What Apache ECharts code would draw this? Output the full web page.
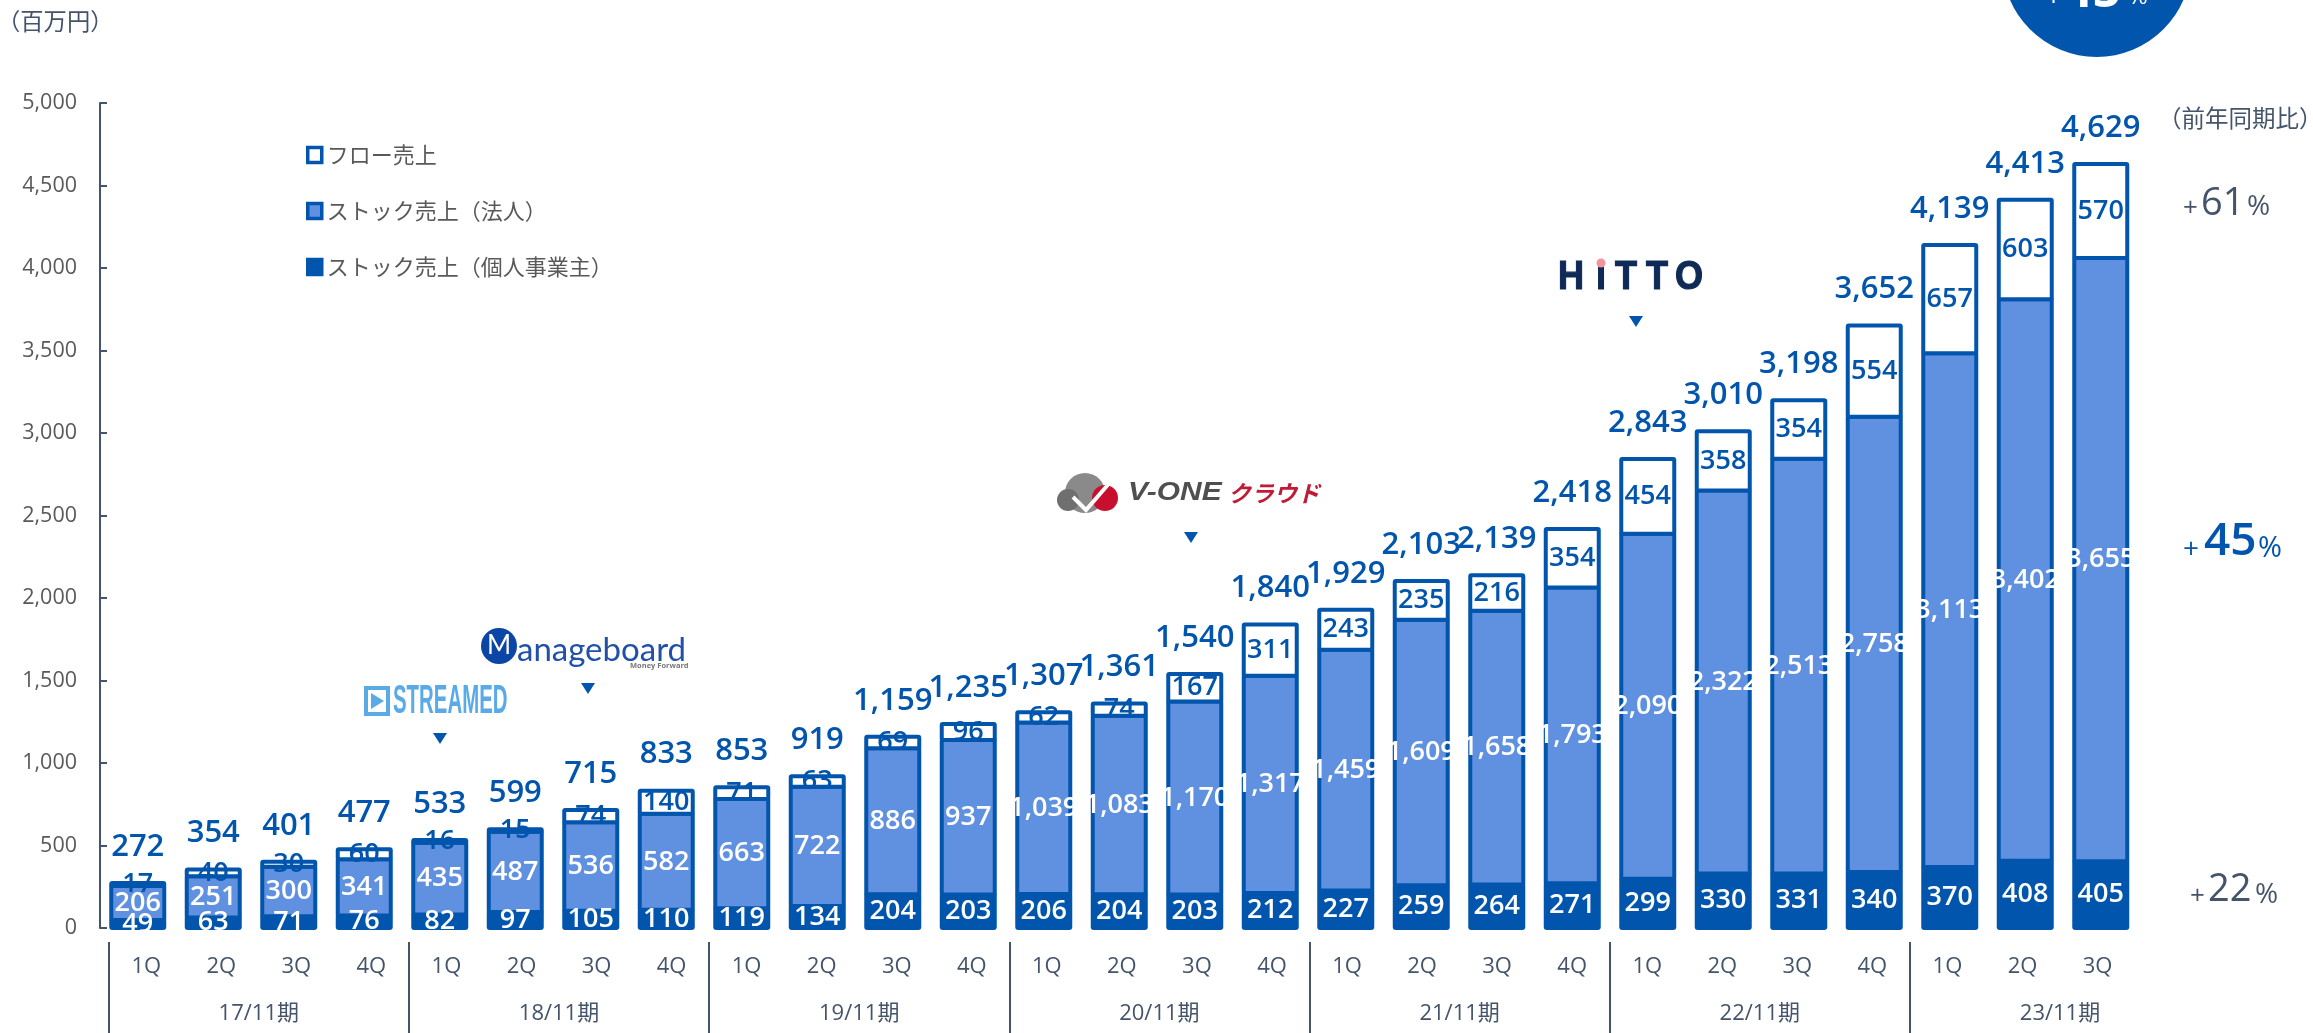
<!DOCTYPE html>
<html><head><meta charset="utf-8">
<style>html,body{margin:0;padding:0;background:#fff}#c{width:2313px;height:1033px}</style>
<script src="https://cdn.jsdelivr.net/npm/echarts@6/dist/echarts.min.js"></script>
</head><body><div id="c"></div>
<script>
const quarters = ['1Q','2Q','3Q','4Q','1Q','2Q','3Q','4Q','1Q','2Q','3Q','4Q','1Q','2Q','3Q','4Q','1Q','2Q','3Q','4Q','1Q','2Q','3Q','4Q','1Q','2Q','3Q'];
const years = ['17/11期','18/11期','19/11期','20/11期','21/11期','22/11期','23/11期'];
const stockIndividual = [49,63,71,76,82,97,105,110,119,134,204,203,206,204,203,212,227,259,264,271,299,330,331,340,370,408,405];
const stockCorporate = [206,251,300,341,435,487,536,582,663,722,886,937,1039,1083,1170,1317,1459,1609,1658,1793,2090,2322,2513,2758,3113,3402,3655];
const flow = [17,40,30,60,16,15,74,140,71,63,69,96,62,74,167,311,243,235,216,354,454,358,354,554,657,603,570];
const totals = [272,354,401,477,533,599,715,833,853,919,1159,1235,1307,1361,1540,1840,1929,2103,2139,2418,2843,3010,3198,3652,4139,4413,4629];
const legendNames = ['フロー売上','ストック売上（法人）','ストック売上（個人事業主）'];

const DARK='#0255ac', MID='#6090e0', GRAY='#595959', SLATE='#44546a';
const FONT='"Open Sans","Noto Sans CJK JP",sans-serif';
const CJK='"Noto Sans CJK JP",sans-serif';
const SANS='"Liberation Sans",sans-serif';
const BAR_W=53, BORDER=4;

const num = v => Number(v).toLocaleString('en-US');
// one stacked layer: each row is [category index, value, value underneath]
function layer(name,values,below,fill,labelColor){
  return {name,type:'custom',xAxisIndex:0,yAxisIndex:0,silent:true,clip:false,
    data:values.map((v,i)=>[i,v,below[i]]),
    encode:{x:0,y:1},
    itemStyle:{color:fill,borderColor:DARK,borderWidth:BORDER},
    renderItem:(p,api)=>{
      const i=api.value(0), v=api.value(1), b=api.value(2);
      const top=api.coord([i,b+v]), bot=api.coord([i,b]);
      return {type:'rect',
        shape:{x:top[0]-BAR_W/2,y:top[1],width:BAR_W,height:bot[1]-top[1],r:1},
        style:{fill,stroke:DARK,lineWidth:BORDER},
        textContent:{style:{text:num(v),fill:labelColor,fontFamily:FONT,fontSize:27,fontWeight:600}},
        textConfig:{position:'inside'}};
    }};
}
const zero=stockIndividual.map(()=>0);
const belowFlow=stockIndividual.map((v,i)=>v+stockCorporate[i]);

const txt=(x,y,text,size,color,extra={},el={})=>Object.assign({type:'text',x,y,silent:true,style:Object.assign({text,fontSize:size,fill:color,fontFamily:FONT,align:'left',verticalAlign:'middle'},extra)},el);
const tri=(x,y,s=7)=>({type:'polygon',silent:true,shape:{points:[[x-s,y-5],[x+s,y-5],[x,y+6]]},style:{fill:DARK}});
const hitto=(x,t)=>txt(x,278,t,41,'#0f2a57',{fontFamily:SANS,fontWeight:700,stroke:'#0f2a57',lineWidth:1.2},{scaleX:.88});

const chart=echarts.init(document.getElementById('c'),null,{renderer:'canvas'});
chart.setOption({
  animation:false,
  grid:[
    {left:100,top:103,width:2038.5,height:825,outerBoundsMode:'none'},
    {left:108.7,top:941,width:2401.6,height:1,outerBoundsMode:'none'}
  ],
  legend:{left:301,top:139,orient:'vertical',itemWidth:14,itemHeight:15,itemGap:34,icon:'rect',
    data:legendNames,
    itemStyle:{borderWidth:3.5},
    textStyle:{color:GRAY,fontFamily:CJK,fontSize:22}},
  xAxis:[
    {type:'category',gridIndex:0,data:quarters.map((q,i)=>i),show:false},
    {type:'category',gridIndex:1,position:'bottom',data:quarters.concat(['','','','','']),
      axisLine:{show:false},axisTick:{show:false},
      axisLabel:{interval:0,color:SLATE,fontFamily:FONT,fontSize:22,margin:14}},
    {type:'category',gridIndex:1,position:'bottom',data:years.concat(['']),
      axisLine:{show:false},
      axisTick:{show:true,length:95,interval:(i)=>i<7,lineStyle:{color:SLATE,width:2}},
      axisLabel:{interval:0,color:SLATE,fontFamily:FONT,fontSize:22,margin:61}}
  ],
  yAxis:[
    {type:'value',gridIndex:0,min:0,max:5000,interval:500,
      axisLine:{show:true,lineStyle:{color:SLATE,width:2}},
      axisTick:{show:true,inside:true,length:7,lineStyle:{color:SLATE,width:2}},
      splitLine:{show:false},
      axisLabel:{color:GRAY,fontFamily:FONT,fontSize:21.5,margin:23,formatter:v=>num(v)}},
    {type:'value',gridIndex:1,show:false}
  ],
  series:[
    layer(legendNames[2],stockIndividual,zero,DARK,'#fff'),
    layer(legendNames[1],stockCorporate,stockIndividual,MID,'#fff'),
    layer(legendNames[0],flow,belowFlow,'#fff',DARK),
    {name:'合計',type:'line',data:totals,xAxisIndex:0,yAxisIndex:0,symbol:'circle',symbolSize:1,showSymbol:true,silent:true,
      lineStyle:{opacity:0},itemStyle:{color:'rgba(0,0,0,0)'},
      label:{show:true,position:'top',distance:20,color:DARK,fontFamily:FONT,fontSize:31,fontWeight:600,formatter:p=>num(p.value)}}
  ],
  graphic:[
    txt(-3,21,'（百万円）',23.3,SLATE,{fontFamily:CJK}),
    txt(2158,118,'（前年同期比）',23.5,SLATE,{fontFamily:CJK}),
    // YoY
    txt(2183,209,'+',26,SLATE),txt(2201,204,'61',38,SLATE),txt(2247,207,'%',28,SLATE),
    txt(2183,550,'+',28,DARK),txt(2204,542,'45',46,DARK,{fontWeight:600}),txt(2258,549,'%',29,DARK),
    txt(2190,897,'+',26,SLATE),txt(2208,890,'22',38,SLATE),txt(2255,895,'%',28,SLATE),
    // badge
    {type:'circle',silent:true,shape:{cx:2096.7,cy:-37.4,r:94.4},style:{fill:DARK}},
    txt(2045,-3,'+',30,'#fff'),txt(2064,-7,'45',50,'#fff',{fontWeight:700}),txt(2128,-3,'%',24,'#fff'),
    // STREAMED logo
    {type:'rect',silent:true,shape:{x:366,y:688,width:22,height:26},style:{fill:'none',stroke:'#5aaae8',lineWidth:4}},
    {type:'polygon',silent:true,shape:{points:[[371,693],[384,701],[371,709]]},style:{fill:'#5aaae8'}},
    txt(393,702,'STREAMED',40,'#5aaae8',{fontFamily:SANS,fontWeight:700},{scaleX:.51}),
    tri(440,738),
    // Manageboard logo
    {type:'circle',silent:true,shape:{cx:499,cy:646,r:18},style:{fill:'#0b45a5'}},
    txt(499,646,'M',26,'#fff',{align:'center',fontFamily:'Lato,sans-serif'}),
    txt(517,650,'anageboard',33,'#2150a8',{fontFamily:'Lato,sans-serif'}),
    txt(630,666,'Money Forward',7.5,'#777',{fontWeight:700}),
    tri(588,688),
    // V-ONE logo
    {type:'circle',silent:true,shape:{cx:1085,cy:493,r:20},style:{fill:'#8a8a8a'}},
    {type:'circle',silent:true,shape:{cx:1068,cy:500,r:11},style:{fill:'#6f6f6f'}},
    {type:'circle',silent:true,shape:{cx:1105,cy:498,r:13},style:{fill:'#c8102e'}},
    {type:'polyline',silent:true,shape:{points:[[1073,497],[1086,510],[1112,480]]},style:{stroke:'#fff',lineWidth:4,fill:'none'}},
    txt(1128,493,'V-ONE',26,'#4f4f4f',{fontFamily:SANS,fontWeight:700,fontStyle:'italic'},{scaleX:1.15}),
    txt(1228,493,'クラウド',23,'#c01a35',{fontFamily:CJK,fontWeight:700,fontStyle:'italic'}),
    tri(1191,537),
    // HiTTO logo
    hitto(1558,'H'),hitto(1596,'ı'),
    {type:'circle',silent:true,shape:{cx:1601,cy:263,r:4.5},style:{fill:'#f4939d'}},
    hitto(1615,'T'),hitto(1646,'T'),hitto(1675,'O'),
    tri(1636,321)
  ]
});
</script></body></html>
